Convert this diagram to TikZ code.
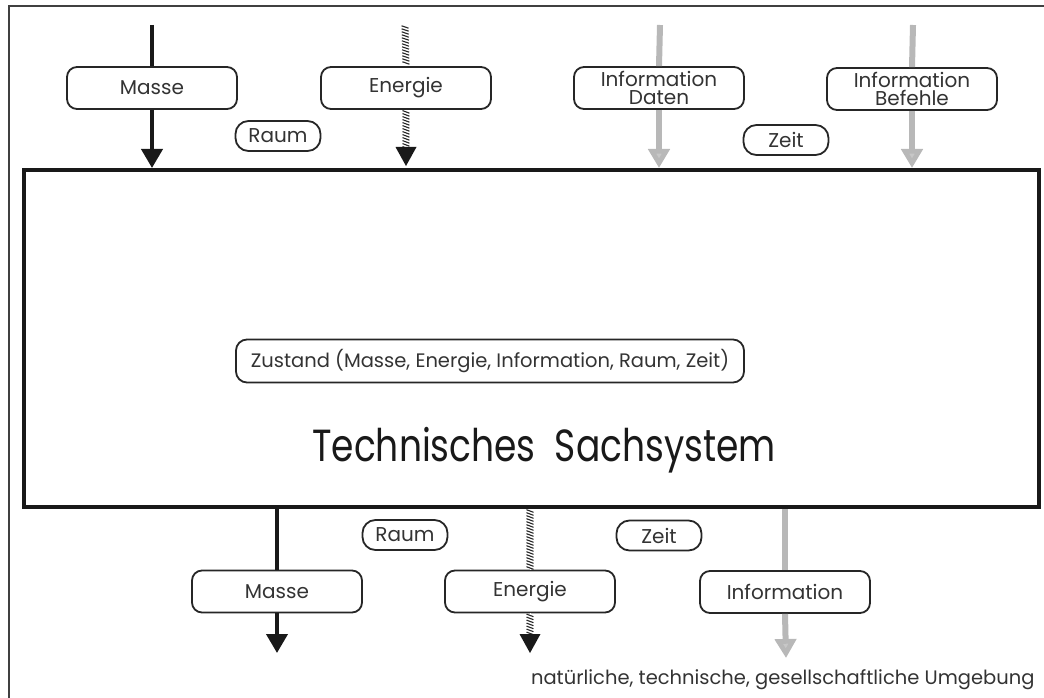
\documentclass[tikz,border=0pt]{standalone}
\usepackage{fontspec}
\setmainfont{Poppins}
\usetikzlibrary{arrows.meta,decorations.markings}
\tikzset{
  x=1pt, y=-1pt,
  lbl/.style={draw=black!85, line width=1.8pt, rounded corners=10pt, fill=white,
    minimum height=42pt, minimum width=170pt, inner sep=0pt, align=center,
    font=\fontsize{20}{18.5}\selectfont, text=black!80},
  pill/.style={draw=black!85, line width=1.8pt, rounded corners=13pt, fill=white,
    minimum height=30pt, minimum width=85pt, inner sep=0pt,
    font=\fontsize{20}{19}\selectfont, text=black!80},
  mflow/.style={line width=4pt, black!90},
  mtip/.style={-{Triangle[width=21pt,length=19pt]}},
  eflow/.style={line width=0.1pt, white, postaction={decorate, decoration={markings,
      mark=between positions 2pt and -1pt step 3pt with {\draw[black!85, line width=1.1pt] (-1.3pt,-3.5pt) -- (1.3pt,3.5pt);}}}},
  iflow/.style={line width=6pt, black!28},
  itip/.style={-{Triangle[width=21pt,length=19pt,fill=black!22]}},
}
\begin{document}
\begin{tikzpicture}
\useasboundingbox (0,0) rectangle (1044,698);
% outer frame (top and left)
\draw[black!75, line width=1.3pt] (1044,6) -- (9,6) -- (9,698);
% system
\node[draw=black!90, line width=4pt, minimum width=1015pt, minimum height=337pt, inner sep=0pt]
  (sys) at (531,338.5) {};
\node[draw=black!85, line width=1.8pt, rounded corners=11pt, minimum width=508pt, minimum height=43pt,
  inner sep=0pt, font=\fontsize{19.5}{19}\selectfont, text=black!80] (zust) at (490,361) {Zustand (Masse, Energie, Information, Raum, Zeit)};
\node[font=\fontsize{45}{45}\selectfont, text=black!90] (title) at (544,450) {\scalebox{0.8}[1]{Technisches\ \ Sachsystem}};
% top inputs
\coordinate (mt) at (152,25);
\coordinate (et) at (405,25);
\coordinate (dt) at (660,25);
\coordinate (bt) at (913,25);
\node[lbl] (m1) at (152,88) {Masse};
\node[lbl] (e1) at (406,88) {Energie};
\node[lbl] (d1) at (659,88) {Information\\Daten};
\node[lbl] (b1) at (912,89) {Information\\Befehle};
\node[pill] (r1) at (278,136) {Raum};
\node[pill] (z1) at (786,140) {Zeit};
\draw[mflow] (mt) -- (m1.north);
\draw[mflow,mtip] (m1.south) -- (m1.south |- sys.north);
\draw[eflow] (et) -- (e1.north);
\draw[eflow] (e1.south) -- ([yshift=16pt]e1.south |- sys.north);
\fill[black!90] (e1.south |- sys.north) ++(0,-2) -- ++(-10.5,-19) -- ++(21,0) -- cycle;
\draw[iflow] (dt) -- (d1.north);
\draw[iflow,itip] (d1.south) -- (d1.south |- sys.north);
\draw[iflow] (bt) -- (b1.north);
\draw[iflow,itip] (b1.south) -- (b1.south |- sys.north);
% bottom outputs
\node[lbl] (m2) at (277,591.5) {Masse};
\node[lbl] (e2) at (530,591.5) {Energie};
\node[lbl] (i2) at (785,592) {Information};
\node[pill] (r2) at (405,535) {Raum};
\node[pill] (z2) at (659,535.5) {Zeit};
\coordinate (mb) at (277,653);
\coordinate (eb) at (530,653);
\coordinate (ib) at (786,658);
\draw[mflow] (m2.north |- sys.south) -- (m2.north);
\draw[mflow,mtip] (m2.south) -- (mb);
\draw[eflow] (e2.north |- sys.south) -- (e2.north);
\draw[eflow] (e2.south) -- ([yshift=17pt]eb);
\fill[black!90] (eb) -- ++(-10.5,-19) -- ++(21,0) -- cycle;
\draw[iflow] (i2.north |- sys.south) -- (i2.north);
\draw[iflow,itip] (i2.south) -- (ib);
\node[font=\fontsize{19.5}{19}\selectfont, text=black!80, anchor=east] (umg) at (1038,680) {natürliche, technische, gesellschaftliche Umgebung};
\end{tikzpicture}
\end{document}
